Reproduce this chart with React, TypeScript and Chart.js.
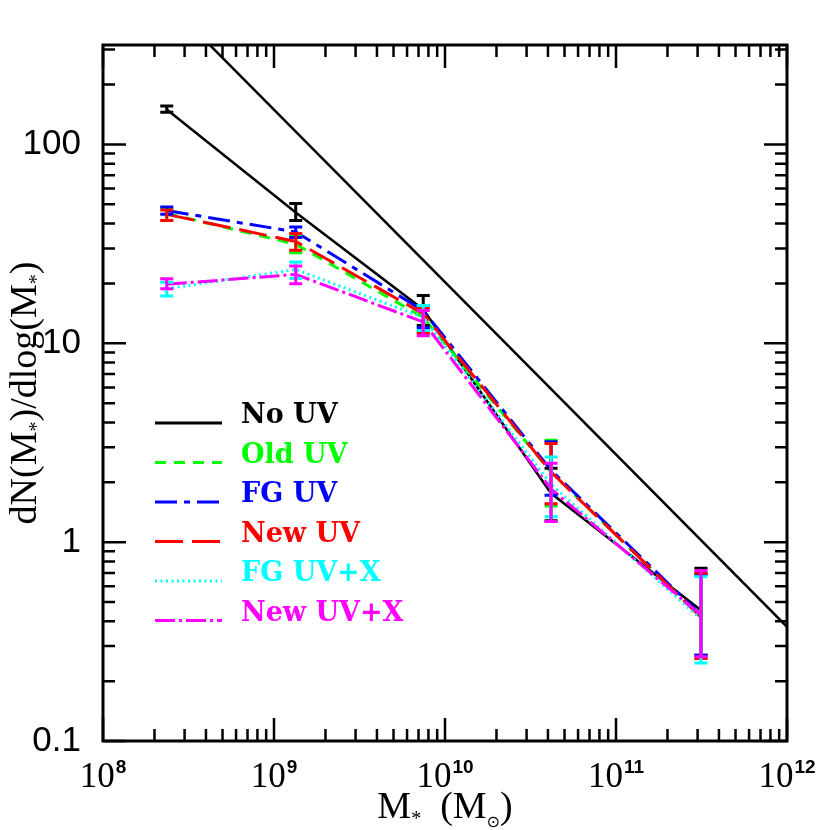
import React, { useEffect, useRef } from "react";
import { Chart, registerables } from "chart.js";
Chart.register(...registerables);

// Stellar mass bins (M_sun)
const massBins = [2.36e8, 1.34e9, 7.46e9, 4.17e10, 3.14e11];

const noUV = [150, 45.5, 14.8, 1.76, 0.455];
const noUVLo = [145, 41.5, 12.3, 1.28, 0.27];
const noUVHi = [156, 50.4, 17.4, 2.35, 0.74];

const oldUV = [45, 31.5, 13.5, 2.25, 0.42];
const oldUVLo = [41.5, 28.5, 11.4, 1.52, 0.26];
const oldUVHi = [48, 34.5, 15.4, 3.25, 0.7];

const fgUV = [46.5, 36.3, 14.6, 2.3, 0.43];
const fgUVLo = [44.5, 34, 12, 1.72, 0.27];
const fgUVHi = [48.5, 38.4, 15.5, 3.2, 0.69];

const newUV = [44.5, 32.5, 14.1, 2.25, 0.42];
const newUVLo = [41.5, 29.4, 11.2, 1.56, 0.26];
const newUVHi = [46.8, 35.6, 15, 3.13, 0.7];

const fgUVX = [18.8, 23.5, 13.5, 1.95, 0.41];
const fgUVXLo = [17.3, 21.2, 11.6, 1.34, 0.247];
const fgUVXHi = [20.3, 25.6, 15.5, 2.68, 0.67];

const newUVX = [19.8, 22.2, 12.8, 1.85, 0.43];
const newUVXLo = [18.8, 19.9, 10.9, 1.27, 0.265];
const newUVXHi = [21.1, 24.5, 14.6, 2.49, 0.72];

// Reference power law line
const powerLawX = [1e8, 1e12];
const powerLawY = [1100, 0.375];

const xTickExponents = [8, 9, 10, 11, 12];
const yTickValues = [0.1, 1, 10, 100];
const yTickLabels = ["0.1", "1", "10", "100"];

const xMin = 1e8;
const xMax = 1e12;
const yMin = 0.1;
const yMax = 316.2;

type Series = {
  name: string;
  color: string;
  dash: number[];
  width: number;
  y: number[];
  lo: number[];
  hi: number[];
};

const series: Series[] = [
  { name: "No UV", color: "#000000", dash: [], width: 2.5, y: noUV, lo: noUVLo, hi: noUVHi },
  { name: "Old UV", color: "#00ff00", dash: [11, 8], width: 3, y: oldUV, lo: oldUVLo, hi: oldUVHi },
  { name: "FG UV", color: "#0000ff", dash: [22, 7, 6, 7], width: 3, y: fgUV, lo: fgUVLo, hi: fgUVHi },
  { name: "New UV", color: "#ff0000", dash: [28, 9], width: 3, y: newUV, lo: newUVLo, hi: newUVHi },
  { name: "FG UV+X", color: "#00ffff", dash: [2, 3.5], width: 3, y: fgUVX, lo: fgUVXLo, hi: fgUVXHi },
  { name: "New UV+X", color: "#ff00ff", dash: [20, 4, 3, 4], width: 3, y: newUVX, lo: newUVXLo, hi: newUVXHi },
];

const decorPlugin = {
  id: "decor",
  afterDatasetsDraw(chart: any) {
    const ctx = chart.ctx;
    const xs = chart.scales.x;
    const ys = chart.scales.y;
    const { left, right, top, bottom } = chart.chartArea;
    ctx.save();
    ctx.beginPath();
    ctx.rect(left, top, right - left, bottom - top);
    ctx.clip();
    ctx.setLineDash([]);
    series.forEach((s) => {
      ctx.strokeStyle = s.color;
      ctx.lineWidth = 3;
      massBins.forEach((m, i) => {
        const x = xs.getPixelForValue(m);
        const yl = ys.getPixelForValue(s.lo[i]);
        const yh = ys.getPixelForValue(s.hi[i]);
        ctx.beginPath();
        ctx.moveTo(x, yl);
        ctx.lineTo(x, yh);
        ctx.moveTo(x - 6.5, yl);
        ctx.lineTo(x + 6.5, yl);
        ctx.moveTo(x - 6.5, yh);
        ctx.lineTo(x + 6.5, yh);
        ctx.stroke();
      });
    });
    ctx.restore();
  },
  afterDraw(chart: any) {
    const ctx = chart.ctx;
    const xs = chart.scales.x;
    const ys = chart.scales.y;
    const { left, right, top, bottom } = chart.chartArea;
    ctx.save();
    ctx.setLineDash([]);
    ctx.strokeStyle = "#000";
    // frame
    ctx.lineWidth = 3;
    ctx.strokeRect(left, top, right - left, bottom - top);
    // ticks
    ctx.lineWidth = 2.5;
    ctx.beginPath();
    for (let d = 8; d <= 12; d++) {
      for (let k = 1; k <= 9; k++) {
        const v = k * Math.pow(10, d);
        if (v > xMax * 1.0001) continue;
        const x = xs.getPixelForValue(v);
        const len = k === 1 ? 23 : 12;
        ctx.moveTo(x, bottom);
        ctx.lineTo(x, bottom - len);
        ctx.moveTo(x, top);
        ctx.lineTo(x, top + len);
      }
    }
    for (let d = -1; d <= 2; d++) {
      for (let k = 1; k <= 9; k++) {
        const v = k * Math.pow(10, d);
        if (v > yMax) continue;
        const y = ys.getPixelForValue(v);
        const len = k === 1 ? 23 : 12;
        ctx.moveTo(left, y);
        ctx.lineTo(left + len, y);
        ctx.moveTo(right, y);
        ctx.lineTo(right - len, y);
      }
    }
    ctx.stroke();

    // y tick labels
    ctx.fillStyle = "#000";
    ctx.font = "35px 'Liberation Sans'";
    ctx.textAlign = "right";
    ctx.textBaseline = "middle";
    yTickValues.forEach((v, i) => {
      ctx.fillText(yTickLabels[i], left - 22, ys.getPixelForValue(v));
    });

    // x tick labels with superscripts
    ctx.textAlign = "left";
    ctx.textBaseline = "alphabetic";
    const baseFont = "35px 'Liberation Serif'";
    const supFont = "bold 19px 'Liberation Sans'";
    xTickExponents.forEach((e) => {
      const x = xs.getPixelForValue(Math.pow(10, e));
      ctx.font = baseFont;
      const w1 = ctx.measureText("10").width;
      ctx.font = supFont;
      const w2 = ctx.measureText(String(e)).width;
      const start = x - (w1 + w2 + 1) / 2;
      ctx.font = baseFont;
      ctx.fillText("10", start, bottom + 46);
      ctx.font = supFont;
      ctx.fillText(String(e), start + w1 + 1, bottom + 32);
    });

    // x title: M* (M⊙)
    const tFont = "38px 'Liberation Serif'";
    const sFont = "20px 'Liberation Serif'";
    const oFont = "16px 'DejaVu Sans'";
    const xParts: [string, string, number][] = [
      ["M", tFont, 0],
      ["*", sFont, 7],
      ["  (", tFont, 0],
      ["M", tFont, 0],
      ["\u2299", oFont, 9],
      [")", tFont, 0],
    ];
    let total = 0;
    xParts.forEach(([t, f]) => {
      ctx.font = f;
      total += ctx.measureText(t).width;
    });
    let cx = (left + right) / 2 - total / 2;
    const xBase = bottom + 77;
    xParts.forEach(([t, f, off]) => {
      ctx.font = f;
      ctx.fillText(t, cx, xBase + off);
      cx += ctx.measureText(t).width;
    });

    // y title: dN(M*)/dlog(M*)
    const yParts: [string, string, number][] = [
      ["dN(M", tFont, 0],
      ["*", sFont, 7],
      [")/dlog(M", tFont, 0],
      ["*", sFont, 7],
      [")", tFont, 0],
    ];
    let ytotal = 0;
    yParts.forEach(([t, f]) => {
      ctx.font = f;
      ytotal += ctx.measureText(t).width;
    });
    ctx.save();
    ctx.translate(left - 67, (top + bottom) / 2);
    ctx.rotate(-Math.PI / 2);
    let cy = -ytotal / 2;
    yParts.forEach(([t, f, off]) => {
      ctx.font = f;
      ctx.fillText(t, cy, off);
      cy += ctx.measureText(t).width;
    });
    ctx.restore();

    // legend
    series.forEach((s, i) => {
      const y = top + 378 + i * 39.5;
      ctx.strokeStyle = s.color;
      ctx.lineWidth = 3;
      ctx.setLineDash(s.dash);
      ctx.beginPath();
      ctx.moveTo(left + 52, y);
      ctx.lineTo(left + 119, y);
      ctx.stroke();
      ctx.setLineDash([]);
      ctx.fillStyle = s.color;
      ctx.font = "bold 27px 'DejaVu Serif'";
      ctx.textAlign = "left";
      ctx.textBaseline = "alphabetic";
      ctx.fillText(s.name, left + 138, y);
    });
    ctx.restore();
  },
};

export default function App() {
  const ref = useRef<HTMLCanvasElement | null>(null);
  useEffect(() => {
    if (!ref.current) return;
    const datasets: any[] = [
      {
        label: "power law",
        data: powerLawX.map((x, i) => ({ x, y: powerLawY[i] })),
        borderColor: "#000",
        borderWidth: 2.5,
        pointRadius: 0,
        order: 10,
      },
      ...series.map((s, idx) => ({
        label: s.name,
        data: massBins.map((m, i) => ({ x: m, y: s.y[i] })),
        borderColor: s.color,
        borderWidth: s.width,
        borderDash: s.dash,
        pointRadius: 0,
        order: series.length - idx,
      })),
    ];
    const chart = new Chart(ref.current, {
      type: "line",
      data: { datasets },
      options: {
        animation: false,
        responsive: false,
        maintainAspectRatio: false,
        layout: { padding: { left: 103, top: 45, right: 43, bottom: 89 } },
        scales: {
          x: { type: "logarithmic", min: xMin, max: xMax, display: false },
          y: { type: "logarithmic", min: yMin, max: yMax, display: false },
        },
        plugins: { legend: { display: false }, tooltip: { enabled: false } },
        elements: { line: { tension: 0 }, point: { radius: 0 } },
      },
      plugins: [decorPlugin],
    } as any);
    return () => chart.destroy();
  }, []);
  return (
    <div style={{ position: "fixed", left: 0, top: 0, width: 830, height: 830, background: "#fff" }}>
      <canvas ref={ref} width={830} height={830} style={{ display: "block" }} />
    </div>
  );
}
